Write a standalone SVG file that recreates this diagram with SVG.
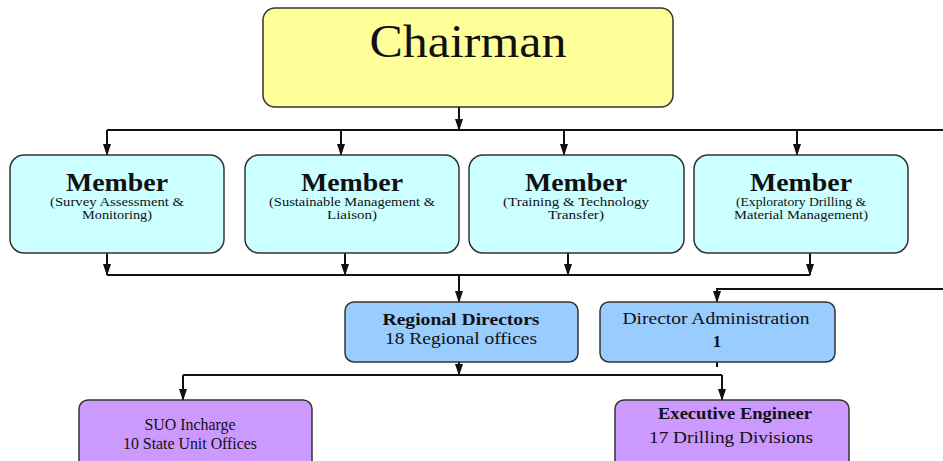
<svg xmlns="http://www.w3.org/2000/svg" width="943" height="461" viewBox="0 0 943 461">
<style>
.box{stroke:#333;stroke-width:1.5}
.ch{fill:#ffff99}
.mem{fill:#ccffff}
.dir{fill:#99ccff}
.pur{fill:#cc99ff}
text{font-family:"Liberation Serif","Times New Roman",serif;text-anchor:middle;fill:#111}
.big{font-size:46px}
.mt{font-size:25px;font-weight:bold}
.ms{font-size:12px}
.t17{font-size:17px}
.t16{font-size:16px}
.ln{stroke:#111;stroke-width:2;fill:none}
</style>
<defs>
<marker id="a" markerWidth="10" markerHeight="12" refX="5" refY="11" orient="0" markerUnits="userSpaceOnUse" viewBox="0 0 10 12">
<path d="M1,0 L9,0 L5,12 Z" fill="#111"/>
</marker>
</defs>
<rect width="943" height="461" fill="#ffffff"/>
<g id="connectors">
<path class="ln" d="M459,107 V130" marker-end="url(#a)"/>
<path class="ln" d="M107,130 H943"/>
<path class="ln" d="M107,130 V155" marker-end="url(#a)"/>
<path class="ln" d="M341,130 V155" marker-end="url(#a)"/>
<path class="ln" d="M564,130 V155" marker-end="url(#a)"/>
<path class="ln" d="M797,130 V155" marker-end="url(#a)"/>
<path class="ln" d="M107,253 V275" marker-end="url(#a)"/>
<path class="ln" d="M345,253 V275" marker-end="url(#a)"/>
<path class="ln" d="M568,253 V275" marker-end="url(#a)"/>
<path class="ln" d="M810,253 V275" marker-end="url(#a)"/>
<path class="ln" d="M107,275 H810"/>
<path class="ln" d="M459,275 V302" marker-end="url(#a)"/>
<path class="ln" d="M943,289 H717 V302" marker-end="url(#a)"/>
<path class="ln" d="M459,362 V375" marker-end="url(#a)"/>
<path class="ln" d="M717,362 V367"/>
<path class="ln" d="M183,375 H722"/>
<path class="ln" d="M183,375 V400" marker-end="url(#a)"/>
<path class="ln" d="M722,375 V400" marker-end="url(#a)"/>
</g>
<g id="chairman">
<rect class="box ch" x="263" y="8" width="410" height="99" rx="12"/>
<text class="big" x="468" y="57" textLength="197" lengthAdjust="spacingAndGlyphs">Chairman</text>
</g>
<g id="member1">
<rect class="box mem" x="10" y="155" width="214" height="98" rx="14"/>
<text class="mt" x="117" y="191" textLength="102" lengthAdjust="spacingAndGlyphs">Member</text>
<text class="ms" x="117" y="206" textLength="134" lengthAdjust="spacingAndGlyphs">(Survey Assessment &amp;</text>
<text class="ms" x="117" y="219" textLength="70" lengthAdjust="spacingAndGlyphs">Monitoring)</text>
</g>
<g id="member2">
<rect class="box mem" x="245" y="155" width="214" height="98" rx="14"/>
<text class="mt" x="352" y="191" textLength="102" lengthAdjust="spacingAndGlyphs">Member</text>
<text class="ms" x="352" y="206" textLength="166" lengthAdjust="spacingAndGlyphs">(Sustainable Management &amp;</text>
<text class="ms" x="352" y="219" textLength="50" lengthAdjust="spacingAndGlyphs">Liaison)</text>
</g>
<g id="member3">
<rect class="box mem" x="469" y="155" width="215" height="98" rx="14"/>
<text class="mt" x="576" y="191" textLength="102" lengthAdjust="spacingAndGlyphs">Member</text>
<text class="ms" x="576" y="206" textLength="146" lengthAdjust="spacingAndGlyphs">(Training &amp; Technology</text>
<text class="ms" x="576" y="219" textLength="56" lengthAdjust="spacingAndGlyphs">Transfer)</text>
</g>
<g id="member4">
<rect class="box mem" x="694" y="155" width="214" height="98" rx="14"/>
<text class="mt" x="801" y="191" textLength="102" lengthAdjust="spacingAndGlyphs">Member</text>
<text class="ms" x="801" y="206" textLength="130" lengthAdjust="spacingAndGlyphs">(Exploratory Drilling &amp;</text>
<text class="ms" x="801" y="219" textLength="134" lengthAdjust="spacingAndGlyphs">Material Management)</text>
</g>
<g id="regional-directors">
<rect class="box dir" x="345" y="302" width="233" height="60" rx="9"/>
<text class="t17" x="461" y="325" font-weight="bold" textLength="157" lengthAdjust="spacingAndGlyphs">Regional Directors</text>
<text class="t17" x="461" y="344" textLength="152" lengthAdjust="spacingAndGlyphs">18 Regional offices</text>
</g>
<g id="director-administration">
<rect class="box dir" x="600" y="302" width="235" height="60" rx="9"/>
<text class="t17" x="716" y="324" textLength="187" lengthAdjust="spacingAndGlyphs">Director Administration</text>
<text class="t17" x="717" y="347" font-weight="bold">1</text>
</g>
<g id="suo-incharge">
<rect class="box pur" x="79" y="400" width="233" height="70" rx="9"/>
<text class="t16" x="190" y="430" textLength="91" lengthAdjust="spacingAndGlyphs">SUO Incharge</text>
<text class="t16" x="190" y="449" textLength="134" lengthAdjust="spacingAndGlyphs">10 State Unit Offices</text>
</g>
<g id="executive-engineer">
<rect class="box pur" x="615" y="400" width="234" height="70" rx="9"/>
<text class="t16" x="735" y="419" font-weight="bold" textLength="154" lengthAdjust="spacingAndGlyphs">Executive Engineer</text>
<text class="t17" x="731" y="443" textLength="164" lengthAdjust="spacingAndGlyphs">17 Drilling Divisions</text>
</g>
</svg>
